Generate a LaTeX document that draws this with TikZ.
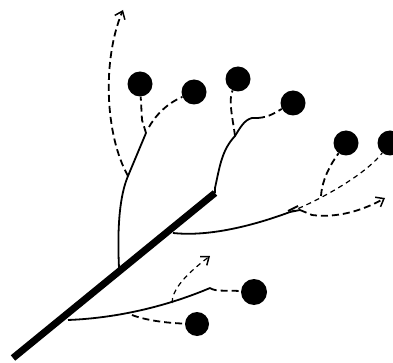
\documentclass[tikz,border=0pt]{standalone}
\usetikzlibrary{arrows.meta}
\begin{document}
\begin{tikzpicture}[x=1pt,y=-1pt,
  ball/.style={circle,fill=black,inner sep=0pt,minimum size=25pt},
  twig/.style={line width=1.8pt},
  trunkline/.style={line width=7pt},
  dsh/.style={line width=1.8pt,dash pattern=on 7pt off 4pt},
  fine/.style={line width=1.2pt,dash pattern=on 5pt off 4pt},
  arr/.style={-{Straight Barb[length=7pt,width=11pt,line width=1.5pt]}}]
\useasboundingbox (0,0) rectangle (393,363);
% balls
\node[ball] (A) at (140,84) {};
\node[ball] (B) at (194,92) {};
\node[ball] (C) at (238,79) {};
\node[ball] (D) at (293,103) {};
\node[ball] (E) at (346,143) {};
\node[ball] (F) at (390,143) {};
\node[ball,minimum size=26pt] (G) at (254,292) {};
\node[ball,minimum size=24pt] (H) at (197,324) {};
% coordinates
\coordinate (t0) at (13,358);
\coordinate (t1) at (215,193);
\coordinate (b1) at (119,268);
\coordinate (f1) at (128,176);
\coordinate (f1b) at (146,133);
\coordinate (a1) at (123,10);
\coordinate (f2) at (235,136);
\coordinate (f2b) at (252,118);
\coordinate (b3) at (173,233);
\coordinate (f3) at (290,212);
\coordinate (f3b) at (321,196);
\coordinate (a3) at (385,198);
\coordinate (b4) at (68,320);
\coordinate (f4) at (210,288);
\coordinate (f4a) at (172,303);
\coordinate (f4b) at (132,315);
\coordinate (a4) at (210,256);
% trunk
\draw[trunkline] (t0) -- (t1);
% branch 1
\draw[twig] (b1) .. controls (117,225) and (120,195) .. (f1) -- (f1b);
\draw[dsh,arr] (f1) .. controls (105,135) and (102,60) .. (a1);
\draw[dsh] (f1b) -- (142,120) -- (A);
\draw[dsh] (149,127) .. controls (160,108) and (175,100) .. (B);
% branch 2
\draw[twig] (t1) -- (215,188) .. controls (220,165) and (222,150) .. (f2) .. controls (240,128) and (244,120) .. (f2b) -- (258,118);
\draw[dsh] (f2) .. controls (233,120) and (228,100) .. (C);
\draw[dsh] (258,118) .. controls (270,117) and (276,112) .. (D);
% branch 3
\draw[twig] (b3) .. controls (210,237) and (255,225) .. (f3);
\draw[fine] (f3) .. controls (320,200) and (365,175) .. (F);
\draw[dsh] (f3b) .. controls (322,180) and (330,165) .. (E);
\draw[dsh,arr] (300,210) -- (312,215) .. controls (335,218) and (360,212) .. (a3);
\draw[twig] (288,211) -- (298,206);
\draw[twig] (f3) -- (300,210);
% branch 4
\draw[twig] (b4) .. controls (120,318) and (170,305) .. (f4);
\draw[dsh] (f4) .. controls (216,292) and (225,290) .. (G);
\draw[fine,arr] (f4a) .. controls (172,290) and (185,275) .. (a4);
\draw[dsh] (f4b) .. controls (145,320) and (165,323) .. (H);
\end{tikzpicture}
\end{document}
